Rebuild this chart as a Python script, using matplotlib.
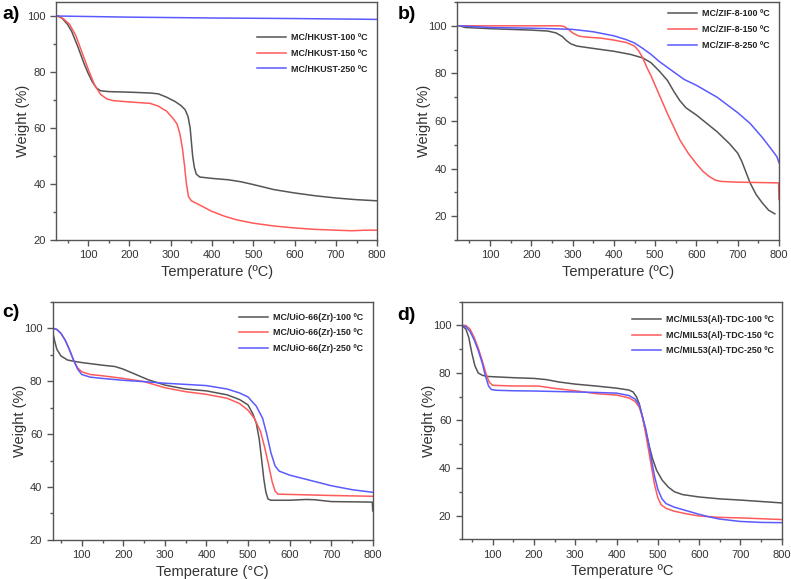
import matplotlib
matplotlib.use("Agg")
import matplotlib.pyplot as plt
from matplotlib.ticker import MultipleLocator

plt.rcParams['font.family'] = ['Liberation Sans', 'DejaVu Sans']

# ---- Panel a: MC/HKUST ----
a_x100 = [25, 35, 50, 60, 75, 90, 100, 110, 120, 130, 150, 200, 250, 270, 290, 310, 325, 335, 342, 347, 350, 353, 357, 362, 370, 400, 440, 470, 500, 550, 600, 650, 700, 750, 800]
a_y100 = [100, 99.5, 97, 94.5, 89, 83, 79.5, 76.5, 74.3, 73.3, 73, 72.8, 72.5, 72.2, 71, 69.5, 68, 66.5, 64, 60, 55, 50, 46, 43.5, 42.5, 42, 41.5, 40.8, 39.8, 38, 36.8, 35.8, 35, 34.4, 34]
a_x150 = [25, 40, 55, 70, 85, 100, 115, 130, 145, 160, 200, 250, 270, 290, 305, 315, 322, 328, 333, 338, 343, 350, 370, 400, 430, 460, 500, 550, 600, 650, 700, 740, 770, 800]
a_y150 = [100, 99, 97, 93, 87, 81, 75.5, 72, 70.4, 69.8, 69.3, 68.8, 67.8, 66, 63.5, 61.5, 58, 53, 47, 40, 35.5, 34, 32.5, 30.2, 28.5, 27.2, 26, 25, 24.3, 23.8, 23.5, 23.3, 23.5, 23.5]
a_x250 = [25, 200, 400, 600, 800]
a_y250 = [100, 99.6, 99.3, 99.1, 98.8]

# ---- Panel b: MC/ZIF-8 ----
b_x100 = [25, 40, 100, 200, 240, 260, 275, 285, 295, 310, 350, 400, 440, 470, 490, 510, 530, 545, 560, 575, 600, 650, 680, 700, 710, 720, 730, 745, 760, 775, 790]
b_y100 = [100, 99.3, 98.8, 98.2, 97.8, 97, 95.5, 93.8, 92.5, 91.5, 90.5, 89.3, 88, 86.5, 84.5, 81, 77, 72.5, 68.5, 65.5, 62.5, 55.5, 50.5, 46.5, 43, 38.5, 34, 29, 25.5, 22.5, 21]
b_x150 = [25, 100, 200, 270, 280, 290, 300, 315, 330, 370, 400, 430, 450, 460, 470, 480, 490, 500, 515, 530, 545, 560, 580, 600, 615, 630, 645, 660, 700, 799, 800]
b_y150 = [100, 100, 100, 100, 99.7, 98.5, 97, 95.7, 95.3, 94.8, 94, 93, 91.5, 89.5, 86.5, 82.5, 79, 75, 69, 63, 57.5, 52, 46.5, 42, 39, 36.8, 35.2, 34.6, 34.3, 34, 27]
b_x250 = [25, 100, 200, 250, 300, 350, 400, 430, 450, 470, 490, 510, 530, 550, 570, 600, 650, 700, 730, 760, 780, 795, 800]
b_y250 = [100, 99.3, 99, 98.8, 98.5, 97.5, 95.8, 94.2, 92.8, 90.5, 88, 85, 82.5, 80, 77.5, 75, 70, 63.5, 59, 53, 48.5, 45, 42.5]

# ---- Panel c: MC/UiO-66(Zr) ----
c_x100 = [30, 35, 40, 50, 65, 80, 100, 150, 180, 200, 230, 260, 300, 350, 400, 450, 480, 500, 512, 520, 527, 533, 538, 543, 548, 555, 600, 640, 660, 700, 799, 800]
c_y100 = [98.5, 95, 92, 89.5, 88, 87.5, 87, 86, 85.5, 84.5, 82.5, 80.5, 78.5, 77, 76.3, 74.8, 73, 71, 67.5, 64, 58, 50, 43, 38, 35.5, 35, 35, 35.3, 35.2, 34.5, 34.3, 31]
c_x150 = [30, 40, 50, 60, 70, 80, 90, 100, 120, 150, 200, 250, 300, 350, 400, 450, 480, 500, 515, 530, 540, 550, 558, 565, 572, 600, 700, 800]
c_y150 = [100, 99.5, 98, 95.5, 92, 88, 85, 83.5, 82.5, 82, 81, 79.8, 77.5, 76, 75, 73.5, 71.5, 69, 66, 61, 55, 48, 42, 38.5, 37.3, 37.2, 36.8, 36.5]
c_x250 = [30, 40, 50, 60, 70, 80, 90, 100, 120, 150, 200, 250, 300, 400, 450, 480, 500, 520, 535, 545, 555, 565, 575, 600, 650, 700, 750, 800]
c_y250 = [100, 99.5, 98, 95.5, 92, 88, 84.5, 82.5, 81.5, 81, 80.3, 79.8, 79.2, 78.3, 77, 75.5, 74, 70.5, 66, 60, 53, 48, 46, 44.5, 42.5, 40.5, 39, 38]

# ---- Panel d: MC/MIL53(Al)-TDC ----
d_x100 = [25, 35, 42, 50, 57, 65, 75, 90, 150, 200, 230, 260, 300, 350, 400, 430, 440, 448, 455, 462, 470, 478, 487, 497, 510, 525, 540, 560, 600, 650, 700, 800]
d_y100 = [100, 98.5, 95, 88, 83, 80, 79, 78.5, 78, 77.7, 77.2, 76.2, 75.3, 74.5, 73.6, 72.8, 72, 70, 67, 62, 56, 50, 44, 39, 35, 32, 30, 28.8, 27.8, 27, 26.5, 25.3]
d_x150 = [25, 35, 45, 55, 65, 75, 85, 92, 100, 150, 210, 250, 300, 350, 400, 430, 445, 455, 462, 470, 478, 485, 492, 500, 508, 520, 540, 570, 600, 650, 700, 800]
d_y150 = [100, 100, 98.5, 95, 90.5, 85, 79, 76, 74.8, 74.5, 74.5, 73.5, 72.5, 71.3, 70.7, 69.5, 68, 65.5, 62, 55, 47, 40, 33, 27.5, 24.5, 23, 21.8, 20.7, 19.8, 19.2, 19, 18.3]
d_x250 = [25, 35, 45, 55, 65, 75, 82, 90, 97, 110, 150, 200, 300, 350, 400, 430, 445, 455, 462, 470, 478, 485, 492, 500, 510, 520, 540, 560, 600, 630, 650, 700, 750, 800]
d_y250 = [100, 99.5, 97.5, 94, 89.5, 84, 79, 74.5, 73, 72.7, 72.5, 72.4, 72, 71.8, 71.5, 70.5, 69, 66.5, 62, 57, 50, 43, 36.5, 31, 27, 25, 23.5, 22.5, 20.5, 19.2, 18.5, 17.5, 17.1, 17]

labels_a = ['MC/HKUST-100 ºC', 'MC/HKUST-150 ºC', 'MC/HKUST-250 ºC']
labels_b = ['MC/ZIF-8-100 ºC', 'MC/ZIF-8-150 ºC', 'MC/ZIF-8-250 ºC']
labels_c = ['MC/UiO-66(Zr)-100 ºC', 'MC/UiO-66(Zr)-150 ºC', 'MC/UiO-66(Zr)-250 ºC']
labels_d = ['MC/MIL53(Al)-TDC-100 ºC', 'MC/MIL53(Al)-TDC-150 ºC', 'MC/MIL53(Al)-TDC-250 ºC']

colors = ['#555555', '#ff5a5a', '#5a5aff']
spine_col = '#555555'

fig = plt.figure(figsize=(7.91, 5.79), dpi=100)

panels = [
    ([0.0708, 0.5855, 0.406, 0.411], (22, 800), (20, 105),
     [(a_x100, a_y100), (a_x150, a_y150), (a_x250, a_y250)], labels_a,
     'Temperature (ºC)', 'a)', (0.003, 0.99), (0.99, 0.895)),
    ([0.5778, 0.5855, 0.407, 0.411], (20, 800), (10, 110),
     [(b_x100, b_y100), (b_x150, b_y150), (b_x250, b_y250)], labels_b,
     'Temperature (ºC)', 'b)', (0.503, 0.99), (0.99, 0.995)),
    ([0.0666, 0.0674, 0.4046, 0.4116], (30, 800), (20, 110),
     [(c_x100, c_y100), (c_x150, c_y150), (c_x250, c_y250)], labels_c,
     'Temperature (°C)', 'c)', (0.003, 0.475), (0.99, 0.98)),
    ([0.5837, 0.0686, 0.4046, 0.4104], (25, 800), (10, 110),
     [(d_x100, d_y100), (d_x150, d_y150), (d_x250, d_y250)], labels_d,
     'Temperature ºC', 'd)', (0.502, 0.47), (0.995, 0.97)),
]

for rect, xl, yl, series, labs, xlab, tag, tagpos, legpos in panels:
    ax = fig.add_axes(rect)
    for (xs, ys), c, lb in zip(series, colors, labs):
        ax.plot(xs, ys, color=c, lw=1.1, label=lb, solid_joinstyle='round')
    ax.set_xlim(*xl)
    ax.set_ylim(*yl)
    ax.xaxis.set_major_locator(MultipleLocator(100))
    ax.xaxis.set_minor_locator(MultipleLocator(50))
    ax.yaxis.set_major_locator(MultipleLocator(20))
    ax.yaxis.set_minor_locator(MultipleLocator(10))
    ax.tick_params(which='both', direction='out', colors=spine_col, labelcolor='#333333',
                   labelsize=8, top=False, right=False)
    ax.tick_params(which='major', length=4, width=1)
    ax.tick_params(which='minor', length=2.5, width=1)
    for s in ax.spines.values():
        s.set_color(spine_col)
        s.set_linewidth(1.0)
    ax.set_xlabel(xlab, fontsize=10.5, color='#333333', labelpad=3)
    ax.set_ylabel('Weight (%)', fontsize=10.5, color='#333333', labelpad=-2)
    leg = ax.legend(loc='upper right', bbox_to_anchor=legpos, frameon=False,
                    prop={'weight': 'bold', 'size': 6.4}, handlelength=3.2,
                    labelspacing=0.75, handletextpad=0.6, borderaxespad=0.3)
    for t in leg.get_texts():
        t.set_color('#222222')
    fig.text(tagpos[0], tagpos[1], tag, fontsize=14, fontweight='bold', va='top', ha='left')

fig.savefig('out.png', dpi=100)
